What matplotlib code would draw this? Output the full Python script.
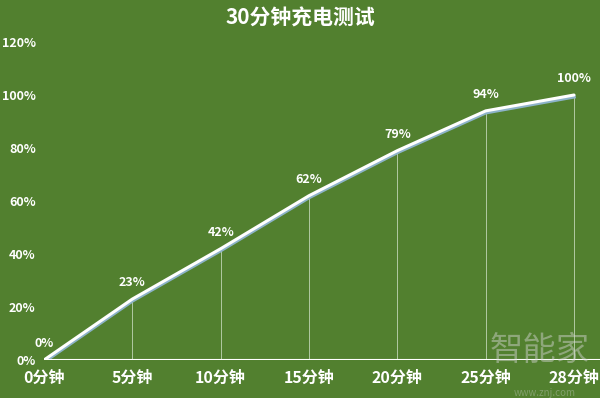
import matplotlib
matplotlib.use('Agg')
import matplotlib.pyplot as plt
import numpy as np

plt.rcParams['font.family'] = ['Noto Sans CJK SC', 'DejaVu Sans']

x_labels = ['0分钟', '5分钟', '10分钟', '15分钟', '20分钟', '25分钟', '28分钟']
charge = [0, 23, 42, 62, 79, 94, 100]
y_ticks = [0, 20, 40, 60, 80, 100, 120]

bg = '#52802f'
x = np.arange(len(x_labels))

fig = plt.figure(figsize=(6, 3.98), dpi=100, facecolor=bg)
ax = fig.add_axes([44 / 600, 1 - 360 / 398, 1 - 44 / 600, (360 - 42) / 398])
ax.set_facecolor(bg)

# 竖线
for xi, yi in zip(x, charge):
    ax.plot([xi, xi], [0, yi], color='#c9dcc0', lw=0.7, alpha=0.8, zorder=1)

# 折线（带阴影）
shift = matplotlib.transforms.ScaledTranslation(0, -1.3 / 72, fig.dpi_scale_trans)
ax.plot(x, charge, color='#8db3c9', lw=2.6, zorder=2, transform=ax.transData + shift)
ax.plot(x, charge, color='white', lw=2.2, zorder=3, solid_capstyle='round')

for xi, yi in zip(x, charge):
    ax.annotate(f'{yi}%', (xi, yi), xytext=(0, 7), textcoords='offset points',
                ha='center', va='bottom', color='white', fontsize=9, fontweight='bold')

ax.axhline(0, color='white', lw=1.5, zorder=2)

ax.set_xlim(0, 556 / 88.33)
ax.set_ylim(0, 120)
ax.set_xticks(x)
ax.set_xticklabels(x_labels, fontsize=11.5, fontweight='bold', color='white')
ax.set_yticks(y_ticks)
ax.set_yticklabels([f'{v}%' for v in y_ticks], fontsize=9, color='white', fontweight='bold')
ax.tick_params(length=0, pad=6)
ax.tick_params(axis='x', pad=7)
for s in ax.spines.values():
    s.set_visible(False)

fig.text(0.5, 1 - 18 / 398, '30分钟充电测试', ha='center', va='center',
         color='white', fontsize=15, fontweight='bold')

# 水印
fig.text(540 / 600, 1 - 350 / 398, '智能家', ha='center', va='center',
         color='#d8d8d8', alpha=0.45, fontsize=24)
fig.text(545 / 600, 1 - 393 / 398, 'www.znj.com', ha='center', va='center',
         color='#d8d8d8', alpha=0.35, fontsize=7)

fig.savefig('out.png', dpi=100, facecolor=bg)
